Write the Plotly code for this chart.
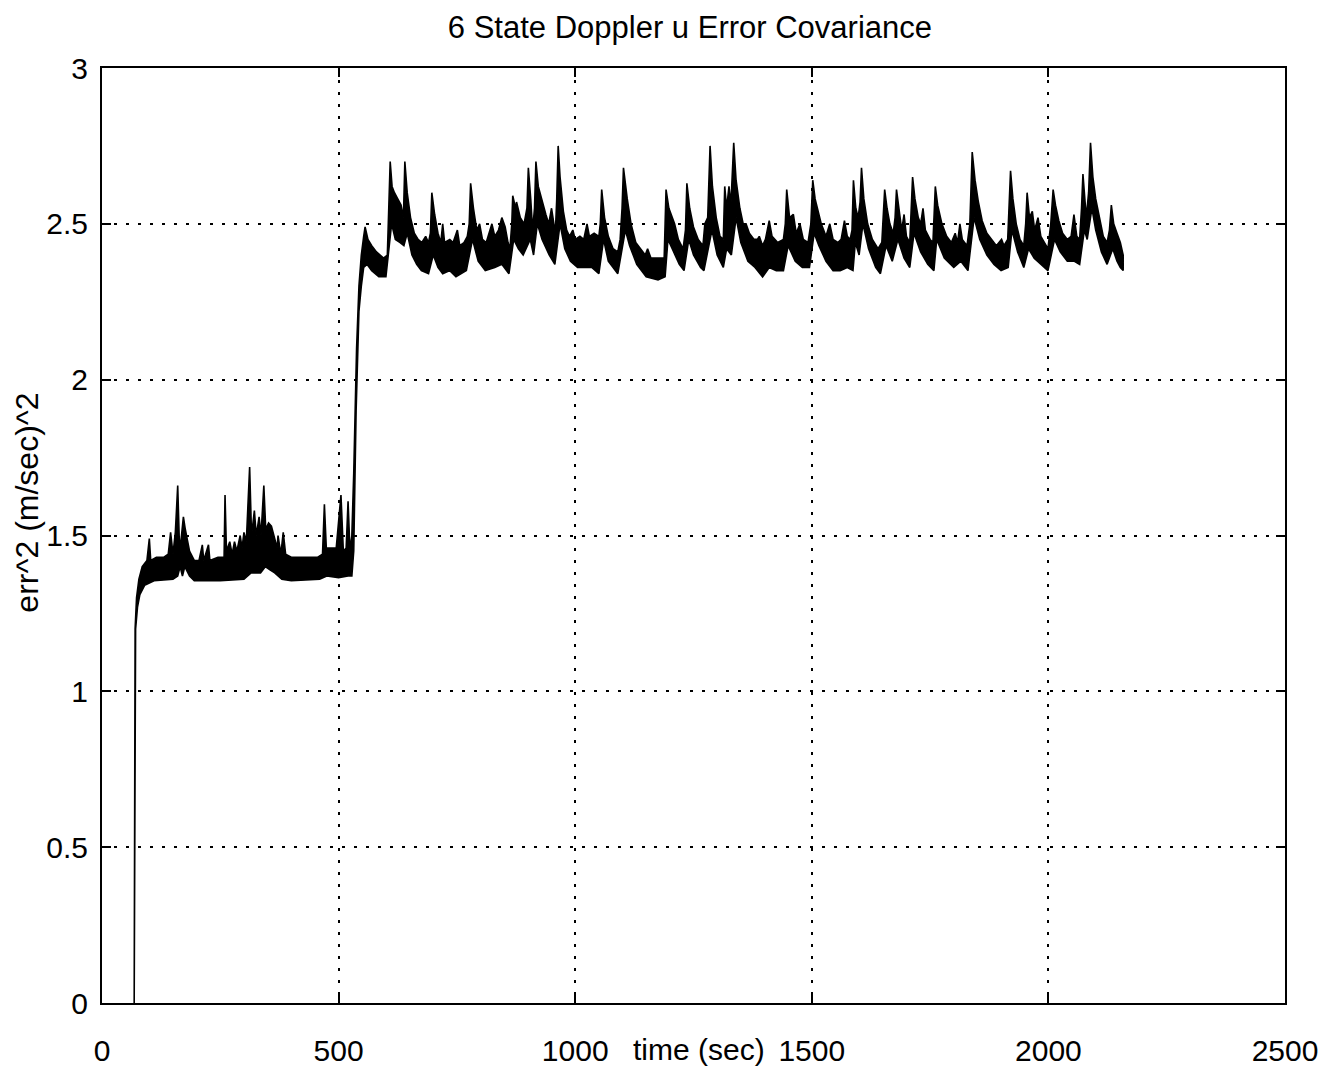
import plotly.graph_objects as go

# Upper edge of the noisy covariance band (time in sec, value in (m/sec)^2)
t_upper = [68, 70, 73, 78, 85, 95, 100, 103, 115, 130, 140, 145, 150, 155, 160, 164, 168, 172, 176, 185,
           195, 205, 212, 215, 225, 228, 245, 258, 260, 263, 270, 275, 280, 285, 292, 296, 300, 305, 312, 316,
           322, 326, 332, 336, 342, 346, 352, 358, 365, 370, 372, 378, 383, 388, 400, 420, 440, 455, 466, 470,
           474, 485, 495, 505, 510, 516, 520, 524, 528, 532, 538, 543,
           548, 553, 556, 562, 570, 580, 595, 603, 606, 609, 613, 618, 625, 632, 637, 640, 645, 652, 660, 668,
           676, 684, 690, 694, 697, 703, 710, 716, 720, 724, 735, 742, 751, 756, 765, 772, 776, 779, 785, 792,
           798, 804, 812, 818, 824, 830, 838, 845, 852, 858, 862, 866, 868, 874, 876, 884, 892, 898, 901, 906,
           910, 914, 917, 922, 930, 938, 944, 950, 955, 958, 961, 964, 968, 975, 982, 988, 995, 1000, 1010, 1018,
           1025, 1030, 1040, 1050, 1053, 1056, 1062, 1070, 1080, 1090, 1095, 1099, 1102, 1106, 1110, 1118, 1128,
           1138, 1148, 1153, 1160, 1175, 1188, 1190, 1192, 1198, 1205, 1210, 1218, 1228, 1233, 1236, 1242, 1250,
           1260, 1270, 1274, 1280, 1285, 1290, 1298, 1306, 1313, 1316, 1320, 1325, 1329, 1335, 1340, 1348, 1355,
           1361, 1368, 1378, 1385, 1389, 1396, 1402, 1410, 1416, 1428, 1440, 1444, 1447, 1453, 1461, 1467, 1475,
           1482, 1492, 1498, 1502, 1507, 1512, 1520, 1530, 1538, 1545, 1555, 1562, 1569, 1575, 1581, 1585, 1588,
           1593, 1598, 1602, 1605, 1610, 1618, 1628, 1640, 1648, 1651, 1654, 1659, 1665, 1672, 1676, 1679, 1684,
           1690, 1695, 1700, 1707, 1710, 1713, 1718, 1725, 1730, 1735, 1740, 1750, 1756, 1759, 1761, 1766, 1775,
           1785, 1795, 1803, 1808, 1813, 1818, 1828, 1834, 1839, 1845, 1852, 1860, 1870, 1880, 1890, 1901, 1906,
           1914, 1917, 1920, 1925, 1932, 1940, 1948, 1952, 1955, 1960, 1966, 1971, 1978, 1984, 1992, 1999, 2005,
           2010, 2015, 2022, 2030, 2040, 2048, 2054, 2060, 2066, 2070, 2073, 2077, 2080, 2085, 2089, 2094, 2100,
           2108, 2116, 2124, 2129, 2133, 2138, 2145, 2152, 2158]
v_upper = [0.0, 1.20, 1.30, 1.36, 1.40, 1.42, 1.49, 1.42, 1.43, 1.43, 1.44, 1.51, 1.44, 1.51, 1.66, 1.45, 1.50, 1.56, 1.52, 1.45,
           1.42, 1.42, 1.47, 1.42, 1.47, 1.42, 1.43, 1.43, 1.63, 1.45, 1.48, 1.44, 1.48, 1.45, 1.50, 1.46, 1.51, 1.48, 1.72, 1.50,
           1.58, 1.50, 1.56, 1.50, 1.66, 1.52, 1.54, 1.53, 1.49, 1.46, 1.50, 1.44, 1.51, 1.44, 1.43, 1.43, 1.43, 1.43, 1.44, 1.60,
           1.46, 1.46, 1.46, 1.63, 1.45, 1.46, 1.61, 1.45, 1.50, 1.70, 2.10, 2.30,
           2.40, 2.46, 2.49, 2.45, 2.43, 2.41, 2.39, 2.40, 2.55, 2.70, 2.62, 2.60, 2.58, 2.56, 2.52, 2.70, 2.60, 2.52, 2.47, 2.45,
           2.44, 2.46, 2.44, 2.47, 2.60, 2.53, 2.47, 2.44, 2.50, 2.44, 2.45, 2.44, 2.48, 2.43, 2.44, 2.46, 2.50, 2.63, 2.55, 2.48,
           2.50, 2.45, 2.44, 2.47, 2.50, 2.46, 2.48, 2.52, 2.49, 2.44, 2.42, 2.50, 2.59, 2.55, 2.57, 2.52, 2.50, 2.55, 2.68, 2.58,
           2.48, 2.55, 2.70, 2.62, 2.57, 2.53, 2.50, 2.55, 2.50, 2.47, 2.58, 2.75, 2.65, 2.54, 2.48, 2.46, 2.48, 2.45, 2.46, 2.45,
           2.50, 2.46, 2.47, 2.46, 2.50, 2.61, 2.52, 2.46, 2.42, 2.41, 2.45, 2.55, 2.68, 2.62, 2.58, 2.50, 2.44,
           2.42, 2.40, 2.42, 2.39, 2.39, 2.39, 2.50, 2.61, 2.55, 2.52, 2.50, 2.45, 2.42, 2.48, 2.63, 2.55, 2.49,
           2.45, 2.43, 2.50, 2.52, 2.75, 2.62, 2.52, 2.46, 2.45, 2.62, 2.55, 2.62, 2.56, 2.76, 2.64, 2.55, 2.50,
           2.50, 2.47, 2.45, 2.45, 2.46, 2.43, 2.45, 2.51, 2.46, 2.44, 2.45, 2.50, 2.61, 2.52, 2.53, 2.47, 2.50,
           2.45, 2.44, 2.50, 2.64, 2.58, 2.55, 2.50, 2.46, 2.50, 2.45, 2.44, 2.45, 2.51, 2.46, 2.45, 2.48, 2.64,
           2.55, 2.52, 2.57, 2.68, 2.58, 2.50, 2.45, 2.42, 2.44, 2.52, 2.61, 2.55, 2.50, 2.47, 2.52, 2.61, 2.55,
           2.48, 2.53, 2.46, 2.44, 2.53, 2.65, 2.58, 2.52, 2.50, 2.55, 2.48, 2.45, 2.44, 2.55, 2.62, 2.56, 2.50,
           2.46, 2.44, 2.47, 2.44, 2.50, 2.45, 2.43, 2.50, 2.73, 2.64, 2.57, 2.51, 2.47, 2.45, 2.43, 2.45, 2.43,
           2.45, 2.55, 2.67, 2.58, 2.50, 2.45, 2.43, 2.50, 2.60, 2.52, 2.54, 2.48, 2.52, 2.46, 2.44, 2.42, 2.50,
           2.61, 2.56, 2.51, 2.47, 2.45, 2.46, 2.53, 2.46, 2.45, 2.55, 2.66, 2.58, 2.52, 2.60, 2.76, 2.65, 2.58,
           2.52, 2.46, 2.44, 2.48, 2.56, 2.50, 2.47, 2.44, 2.40]

# Lower edge of the noisy covariance band
t_lower = [68, 71, 75, 80, 90, 110, 150, 160, 165, 170, 175, 185, 195, 250, 300, 315, 335, 345, 355, 365,
           380, 400, 460, 475, 500, 520, 528, 532, 537, 543,
           548, 553, 560, 570, 585, 600, 605, 612, 620, 630, 638, 645, 655, 665, 675, 690, 700, 710, 720, 735,
           748, 760, 770, 783, 795, 810, 830, 845, 860, 870, 880, 890, 905, 912, 920, 930, 945, 957, 968, 978,
           990, 1005, 1020, 1035, 1050, 1060, 1070, 1090, 1106, 1115, 1130, 1150, 1175, 1190, 1196, 1205, 1220,
           1230, 1240, 1250, 1265, 1272, 1289, 1300, 1313, 1320, 1330, 1340, 1350, 1365, 1380, 1396, 1410, 1425,
           1440, 1450, 1465, 1480, 1495, 1505, 1515, 1530, 1545, 1560, 1575, 1587, 1592, 1600, 1608, 1620, 1635,
           1645, 1657, 1670, 1682, 1695, 1707, 1716, 1730, 1745, 1758, 1764, 1780, 1800, 1815, 1830, 1843, 1855,
           1870, 1885, 1900, 1915, 1923, 1935, 1948, 1958, 1970, 1985, 1999, 2013, 2025, 2040, 2055, 2066, 2076,
           2082, 2092, 2100, 2112, 2124, 2136, 2145, 2152, 2158]
v_lower = [0.0, 1.20, 1.27, 1.31, 1.34, 1.355, 1.36, 1.37, 1.40, 1.37, 1.40, 1.37, 1.355, 1.355, 1.36, 1.38, 1.38, 1.40, 1.39, 1.38,
           1.36, 1.355, 1.36, 1.37, 1.365, 1.37, 1.37, 1.45, 1.90, 2.22,
           2.30, 2.36, 2.37, 2.35, 2.33, 2.33, 2.40, 2.50, 2.45, 2.44, 2.43, 2.47, 2.40, 2.37, 2.35, 2.34, 2.40, 2.36, 2.34, 2.35,
           2.33, 2.34, 2.35, 2.45, 2.38, 2.35, 2.36, 2.37, 2.34, 2.45, 2.42, 2.40, 2.45, 2.40, 2.50, 2.45, 2.40, 2.37, 2.50, 2.42,
           2.38, 2.36, 2.36, 2.36, 2.34, 2.45, 2.38, 2.34, 2.48, 2.43, 2.37, 2.33, 2.32, 2.33, 2.45, 2.42, 2.37,
           2.35, 2.45, 2.40, 2.36, 2.35, 2.48, 2.40, 2.36, 2.42, 2.40, 2.52, 2.44, 2.38, 2.36, 2.33, 2.36, 2.35,
           2.35, 2.43, 2.38, 2.36, 2.36, 2.47, 2.43, 2.38, 2.35, 2.35, 2.36, 2.35, 2.44, 2.40, 2.50, 2.42, 2.36,
           2.34, 2.43, 2.38, 2.45, 2.39, 2.36, 2.47, 2.41, 2.37, 2.35, 2.45, 2.39, 2.36, 2.38, 2.35, 2.52, 2.45,
           2.40, 2.37, 2.35, 2.36, 2.48, 2.41, 2.36, 2.42, 2.39, 2.37, 2.35, 2.45, 2.41, 2.38, 2.38, 2.37, 2.48,
           2.45, 2.55, 2.48, 2.41, 2.37, 2.42, 2.38, 2.36, 2.35]

x_ticks = [0, 500, 1000, 1500, 2000, 2500]
x_tick_text = ["0", "500", "1000", "1500", "2000", "2500"]
y_ticks = [0, 0.5, 1, 1.5, 2, 2.5, 3]
y_tick_text = ["0", "0.5", "1", "1.5", "2", "2.5", "3"]

title_text = "6 State Doppler u Error Covariance"
x_title = "time (sec)"
y_title = "err^2 (m/sec)^2"

FONT = "Liberation Sans, Arial, Helvetica, sans-serif"

# closed band outline: upper edge forward, lower edge backward
band_t = t_upper + t_lower[::-1]
band_v = v_upper + v_lower[::-1]

fig = go.Figure()
fig.add_trace(go.Scatter(
    x=band_t, y=band_v, mode="lines", fill="toself",
    fillcolor="black", line=dict(color="black", width=1.6),
    hoverinfo="skip", showlegend=False))

axis_common = dict(
    showline=True, linecolor="black", linewidth=2, mirror="ticks",
    ticks="inside", ticklen=9, tickwidth=1.5, tickcolor="black",
    showgrid=True, gridcolor="black", gridwidth=1.6, griddash="3px,9px",
    zeroline=False, automargin=False,
    tickfont=dict(family=FONT, size=30, color="black"),
)

fig.update_layout(
    width=1319, height=1063,
    margin=dict(l=94, r=42, t=60, b=68, autoexpand=False),
    paper_bgcolor="white", plot_bgcolor="white",
    title=dict(text=title_text, x=0.517, xanchor="center", y=0.982, yanchor="middle",
               font=dict(family=FONT, size=31, color="black")),
    xaxis=dict(range=[0, 2500], tickvals=x_ticks, ticktext=x_tick_text,
               ticklabelstandoff=20, **axis_common),
    yaxis=dict(range=[0, 3], tickvals=y_ticks, ticktext=y_tick_text,
               ticklabelstandoff=6, **axis_common),
    annotations=[
        dict(text=x_title, x=0.505, y=-0.050, xref="paper", yref="paper",
             xanchor="center", yanchor="middle", showarrow=False,
             font=dict(family=FONT, size=30, color="black")),
        dict(text=y_title, x=-0.0635, y=0.535, xref="paper", yref="paper",
             xanchor="center", yanchor="middle", showarrow=False, textangle=-90,
             font=dict(family=FONT, size=32, color="black")),
    ],
)

fig.write_html("out.html")
